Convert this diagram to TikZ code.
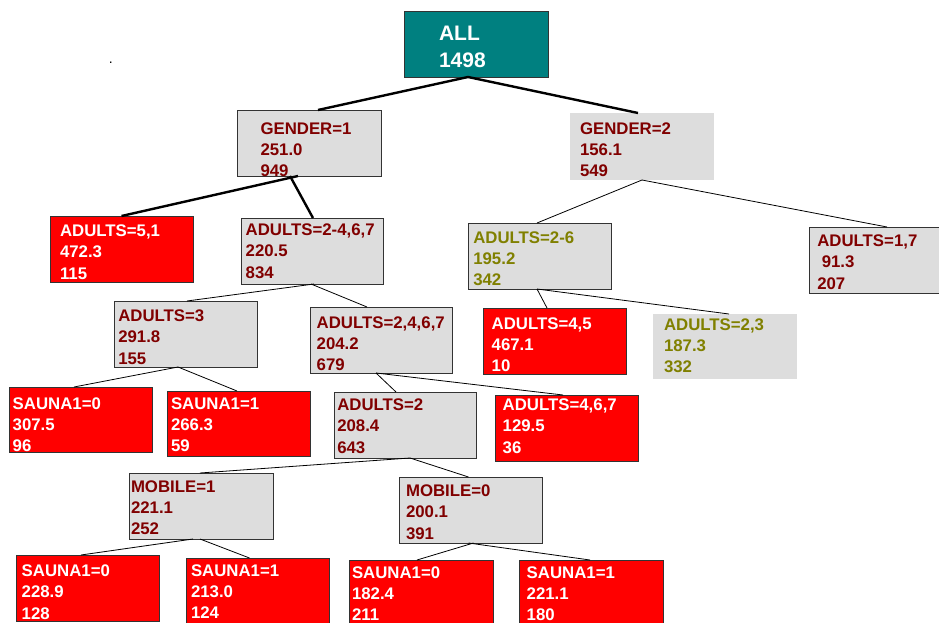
\documentclass[tikz,border=0pt]{standalone}
\usepackage{fontspec}
\setmainfont{Liberation Sans}
\definecolor{tealbox}{HTML}{008080}
\definecolor{redbox}{HTML}{FF0000}
\definecolor{graybox}{HTML}{DDDDDD}
\definecolor{darkred}{HTML}{800000}
\definecolor{olivetxt}{HTML}{808000}
\definecolor{edgecol}{HTML}{333333}
\tikzset{
  boxbase/.style={inner sep=0pt, outer sep=0pt, line width=0.9pt, draw=edgecol},
  tealstyle/.style={boxbase, fill=tealbox},
  redstyle/.style={boxbase, fill=redbox},
  graystyle/.style={boxbase, fill=graybox},
  grayplain/.style={inner sep=0pt, outer sep=0pt, fill=graybox},
  txt/.style={anchor=north west, inner sep=0pt, outer sep=0pt, align=left,
    font=\fontsize{16.8}{21.2}\selectfont\bfseries},
  bigtxt/.style={txt, font=\fontsize{21}{26.7}\selectfont\bfseries},
  wtxt/.style={txt, text=white},
  rtxt/.style={txt, text=darkred},
  otxt/.style={txt, text=olivetxt},
  thickedge/.style={line width=2.4pt, black},
  thinedge/.style={line width=0.8pt, black},
}
\newcommand\bx[6]{\node[#2, minimum width={(#5-#3)*1pt}, minimum height={(#6-#4)*1pt}] (#1) at ({(#3+#5)/2},{(#4+#6)/2}) {};}
\begin{document}
\begin{tikzpicture}[x=1pt, y=-1pt]
\useasboundingbox (0,0) rectangle (939,623);
\clip (0,0) rectangle (939,623);
% boxes
\bx{all}{tealstyle}{404}{11}{548}{77}
\bx{g1}{graystyle}{237}{110}{381}{176}
\bx{g2}{grayplain}{570}{113}{714}{180}
\bx{a51}{redstyle}{50}{216}{193}{282}
\bx{a2467}{graystyle}{241}{218}{383}{284}
\bx{a26}{graystyle}{468}{223}{611}{289}
\bx{a17}{graystyle}{809}{227}{952}{293}
\bx{a3}{graystyle}{114}{301}{257}{367}
\bx{a24}{graystyle}{310}{307}{452}{373}
\bx{a45}{redstyle}{483}{308}{626}{374}
\bx{a23}{grayplain}{653}{314}{797}{379}
\bx{s1}{redstyle}{9}{387}{152}{452}
\bx{s2}{redstyle}{167}{391}{310}{456}
\bx{a2}{graystyle}{334}{392}{476}{458}
\bx{a467}{redstyle}{495}{395}{638}{461}
\bx{m1}{graystyle}{129}{473}{273}{539}
\bx{m0}{graystyle}{399}{477}{542}{543}
\bx{s3}{redstyle}{16}{555}{159}{621}
\bx{s4}{redstyle}{186}{558}{329}{624}
\bx{s5}{redstyle}{349}{560}{493}{626}
\bx{s6}{redstyle}{519}{560}{663}{626}
% texts
\node[bigtxt, text=white] (allt) at (439,26) {ALL\\1498};
\node[rtxt] (g1t) at (260.5,122.7) {GENDER=1\\251.0\\949};
\node[rtxt] (g2t) at (580,122.7) {GENDER=2\\156.1\\549};
\node[wtxt] (a51t) at (60,225) {ADULTS=5,1\\472.3\\115};
\node[rtxt] (a2467t) at (245.7,224) {ADULTS=2-4,6,7\\220.5\\834};
\node[otxt] (a26t) at (473.3,231.7) {ADULTS=2-6\\195.2\\342};
\node[rtxt] (a17t) at (817.3,235) {ADULTS=1,7\\\hspace*{4.5pt}91.3\\207};
\node[rtxt] (a3t) at (118.3,310) {ADULTS=3\\291.8\\155};
\node[rtxt] (a24t) at (316.7,316.7) {ADULTS=2,4,6,7\\204.2\\679};
\node[wtxt] (a45t) at (491.7,317.3) {ADULTS=4,5\\467.1\\10};
\node[otxt] (a23t) at (664,318.3) {ADULTS=2,3\\187.3\\332};
\node[wtxt] (s1t) at (12.7,397.3) {SAUNA1=0\\307.5\\96};
\node[wtxt] (s2t) at (171,397.3) {SAUNA1=1\\266.3\\59};
\node[rtxt] (a2t) at (337.3,399) {ADULTS=2\\208.4\\643};
\node[wtxt] (a467t) at (502.7,399) {ADULTS=4,6,7\\129.5\\36};
\node[rtxt] (m1t) at (131,480.7) {MOBILE=1\\221.1\\252};
\node[rtxt] (m0t) at (406,485) {MOBILE=0\\200.1\\391};
\node[wtxt] (s3t) at (21.7,565) {SAUNA1=0\\228.9\\128};
\node[wtxt] (s4t) at (191,564.5) {SAUNA1=1\\213.0\\124};
\node[wtxt] (s5t) at (352,566.7) {SAUNA1=0\\182.4\\211};
\node[wtxt] (s6t) at (526.7,566.7) {SAUNA1=1\\221.1\\180};
\node[inner sep=0pt, font=\fontsize{14}{16}\selectfont] (dot) at (110.7,62.7) {.};
% edges
\draw[thickedge] ([xshift=-8pt]all.south) -- ([xshift=9pt]g1.north);
\draw[thickedge] ([xshift=-8pt]all.south) -- ([xshift=-4pt]g2.north);
\draw[thickedge] ([xshift=-11pt]g1.south) -- (a51.north);
\draw[thickedge] ([xshift=-19pt]g1.south) -- ([xshift=1pt]a2467.north);
\draw[thinedge] (g2.south) -- ([xshift=-2.5pt]a26.north);
\draw[thinedge] (g2.south) -- ([xshift=6.5pt]a17.north);
\draw[thinedge] ([xshift=2pt]a2467.south) -- ([xshift=1.5pt]a3.north);
\draw[thinedge] ([xshift=-1pt]a2467.south) -- ([xshift=-14pt]a24.north);
\draw[thinedge] ([xshift=-2.5pt]a26.south) -- ([xshift=-7.5pt]a45.north);
\draw[thinedge] ([xshift=-2.5pt]a26.south) -- ([xshift=4pt]a23.north);
\draw[thinedge] ([xshift=-7.5pt]a3.south) -- ([xshift=-6.5pt]s1.north);
\draw[thinedge] ([xshift=-7.5pt]a3.south) -- ([xshift=-1.5pt]s2.north);
\draw[thinedge] ([xshift=-5pt]a24.south) -- ([xshift=-9pt]a2.north);
\draw[thinedge] ([xshift=-5pt]a24.south) -- ([xshift=-3.5pt]a467.north);
\draw[thinedge] ([xshift=5pt]a2.south) -- ([xshift=-1pt]m1.north);
\draw[thinedge] ([xshift=5pt]a2.south) -- ([xshift=-2pt]m0.north);
\draw[thinedge] ([xshift=-8pt]m1.south) -- ([xshift=-6.5pt]s3.north);
\draw[thinedge] ([xshift=-1pt]m1.south) -- ([xshift=-8pt]s4.north);
\draw[thinedge] ([xshift=3pt]m0.south) -- ([xshift=-4pt]s5.north);
\draw[thinedge] ([xshift=-2pt]m0.south) -- ([xshift=-1pt]s6.north);
\end{tikzpicture}
\end{document}
